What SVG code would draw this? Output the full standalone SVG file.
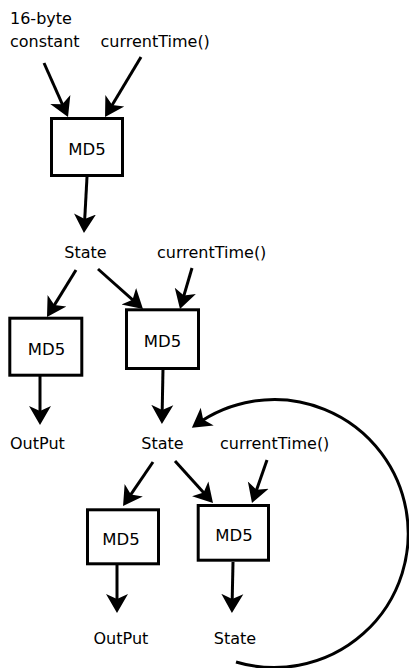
<svg xmlns="http://www.w3.org/2000/svg" width="409" height="668" viewBox="0 0 409 668">
<defs>
<style>
text{font-family:"DejaVu Sans","Liberation Sans",sans-serif;font-size:16px;fill:#000}
.c{text-anchor:middle}
.m{font-size:16.5px}
rect.box{fill:#fff;stroke:#000;stroke-width:3}
.conn path,.conn line{fill:none;stroke:#000;stroke-width:3;marker-end:url(#ah)}
</style>
<marker id="ah" markerUnits="userSpaceOnUse" markerWidth="22" markerHeight="24" viewBox="0 0 22 24" refX="15" refY="12" orient="auto">
<path d="M19,12 L0,1 L5,12 L0,23 z" fill="#000"/>
</marker>
</defs>
<rect width="409" height="668" fill="#fff"/>
<g id="in-const"><text x="10" y="24">16-byte</text><text x="10" y="46.5">constant</text></g>
<g id="in-time1"><text x="100.5" y="46.5">currentTime()</text></g>
<g id="md5-1"><rect class="box" x="51.5" y="118.5" width="71" height="57"/><text class="c m" x="87" y="155">MD5</text></g>
<g id="state-1"><text class="c" x="85.5" y="258">State</text></g>
<g id="in-time2"><text x="157" y="258">currentTime()</text></g>
<g id="md5-2a"><rect class="box" x="9.8" y="318.2" width="72" height="57"/><text class="c m" x="46.5" y="355">MD5</text></g>
<g id="md5-2b"><rect class="box" x="126.5" y="309.8" width="72" height="58.7"/><text class="c m" x="162.5" y="346.5">MD5</text></g>
<g id="out-1"><text x="10" y="448.5">OutPut</text></g>
<g id="state-2"><text class="c" x="162.5" y="449">State</text></g>
<g id="in-time3"><text x="220" y="449">currentTime()</text></g>
<g id="md5-3a"><rect class="box" x="87.5" y="509.8" width="71" height="54"/><text class="c m" x="121" y="545">MD5</text></g>
<g id="md5-3b"><rect class="box" x="198.2" y="505.5" width="70.3" height="54.7"/><text class="c m" x="234" y="541">MD5</text></g>
<g id="out-2"><text x="93.5" y="644">OutPut</text></g>
<g id="state-3"><text class="c" x="235" y="643.5">State</text></g>
<g id="connectors" class="conn">
<line x1="44" y1="63" x2="66.4" y2="113.3"/>
<line x1="141" y1="57" x2="107.1" y2="113.6"/>
<line x1="87" y1="177" x2="84.2" y2="229"/>
<line x1="76" y1="270" x2="49.1" y2="313.6"/>
<line x1="98" y1="269" x2="140" y2="306.3"/>
<line x1="192" y1="268" x2="181.1" y2="305.2"/>
<line x1="40" y1="376" x2="40" y2="421"/>
<line x1="163" y1="369" x2="162" y2="420"/>
<line x1="153" y1="462" x2="125.3" y2="502.7"/>
<line x1="175" y1="461" x2="210.3" y2="500"/>
<line x1="267" y1="460" x2="253.3" y2="499.2"/>
<line x1="117" y1="565" x2="117" y2="609"/>
<line x1="233" y1="562" x2="232" y2="609"/>
<path d="M236,662 A134,134 0 1 0 195.1,425.4"/>
</g>
</svg>
